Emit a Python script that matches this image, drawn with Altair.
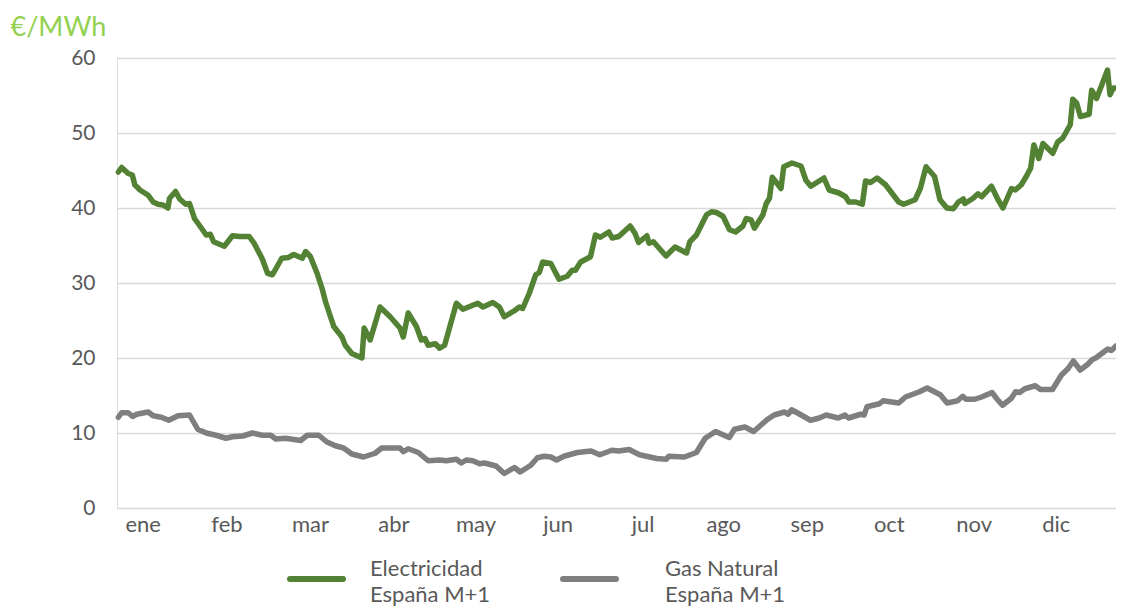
import altair as alt
import pandas as pd

# Day of year (0-365) and value in EUR/MWh
elec_days = [0.5, 1.7, 4.1, 5.6, 6.5, 8.4, 11.4, 13.2, 15.0, 16.8, 18.6, 19.2, 21.4, 22.9, 25.1, 26.5,
             28.3, 30.1, 32.6, 34.1, 35.3, 39.2, 42.2, 44.7, 48.3, 50.1, 53.1, 55.0, 56.8, 60.2, 62.6,
             64.6, 67.7, 68.9, 70.7, 73.1, 74.9, 76.2, 78.0, 79.2, 82.2, 83.4, 85.8, 89.5, 90.3, 92.5,
             96.1, 99.8, 103.4, 104.6, 106.4, 109.4, 111.2, 112.5, 113.7, 116.3, 117.9, 119.7, 124.0,
             126.4, 131.8, 133.7, 137.3, 139.7, 141.5, 145.2, 147.0, 148.2, 150.6, 153.0, 154.3, 155.5,
             158.5, 161.5, 164.5, 166.3, 167.5, 169.4, 173.0, 174.8, 176.6, 179.7, 180.9, 183.3, 187.5,
             189.3, 190.6, 193.6, 194.4, 196.0, 200.6, 203.9, 208.1, 209.3, 211.7, 215.4, 217.2, 219.0,
             221.4, 223.8, 226.0, 228.7, 229.9, 231.7, 232.9, 236.0, 237.2, 238.4, 239.4, 242.6, 243.6,
             246.6, 249.9, 251.7, 253.5, 258.3, 260.2, 263.8, 266.2, 267.4, 269.9, 272.3, 273.5, 275.3,
             277.7, 280.8, 285.6, 287.4, 291.6, 293.5, 295.6, 298.7, 300.7, 303.2, 305.6, 307.4, 309.2,
             309.8, 312.8, 314.6, 315.9, 319.5, 321.9, 323.7, 326.8, 328.2, 330.4, 332.2, 333.8, 335.0,
             336.8, 338.3, 341.9, 343.7, 345.5, 348.3, 349.2, 350.6, 352.0, 355.2, 356.1, 357.9, 361.9,
             362.8, 364.0, 365.0]
elec_vals = [44.8, 45.4, 44.6, 44.4, 43.1, 42.4, 41.7, 40.8, 40.5, 40.4, 40.0, 41.3, 42.2, 41.2, 40.5, 40.6,
             38.6, 37.7, 36.4, 36.5, 35.5, 34.9, 36.3, 36.2, 36.2, 35.3, 33.2, 31.3, 31.1, 33.3, 33.4,
             33.8, 33.3, 34.2, 33.5, 31.3, 29.3, 27.5, 25.5, 24.2, 22.8, 21.7, 20.6, 20.0, 24.0, 22.4,
             26.8, 25.5, 24.0, 22.8, 26.0, 24.2, 22.4, 22.6, 21.7, 21.9, 21.3, 21.7, 27.3,
             26.5, 27.3, 26.8, 27.4, 26.8, 25.5, 26.3, 26.8, 26.6, 28.6, 31.1, 31.4, 32.8,
             32.6, 30.5, 30.9, 31.7, 31.7, 32.8, 33.5, 36.4, 36.1, 36.8, 36.0, 36.2, 37.6,
             36.6, 35.4, 36.3, 35.3, 35.5, 33.6, 34.8, 34.0, 35.5, 36.4, 39.1, 39.5, 39.4,
             38.9, 37.1, 36.8, 37.6, 38.6, 38.4, 37.3, 39.1, 40.6, 41.3, 44.1, 42.6, 45.5,
             46.0, 45.6, 43.7, 42.9, 44.0, 42.4, 42.0, 41.5, 40.8, 40.8, 40.5, 43.6, 43.4,
             44.0, 43.1, 40.8, 40.5, 41.1, 42.6, 45.5, 44.2, 41.1, 40.0, 39.9, 40.8, 41.2,
             40.6, 41.3, 41.9, 41.5, 42.9, 41.1, 40.0, 42.6, 42.4, 43.1, 44.2, 45.3, 48.4,
             46.6, 48.6, 47.3, 48.8, 49.3, 51.1, 54.5, 54.0, 52.2, 52.5, 55.7, 54.6, 58.4,
             55.1, 56.0, 56.0]

gas_days = [0.5, 1.7, 4.1, 5.7, 7.2, 11.4, 13.2, 16.2, 18.9, 22.3, 26.5, 29.5, 32.6, 36.2, 39.8, 42.2,
            45.9, 49.5, 53.1, 56.2, 58.0, 61.6, 67.1, 69.5, 73.7, 76.7, 79.8, 82.8, 85.8, 90.1, 94.3,
            96.7, 103.4, 104.6, 106.4, 110.1, 113.7, 117.9, 120.3, 124.0, 125.8, 127.6, 130.0, 132.5,
            134.3, 138.5, 141.5, 145.2, 147.3, 151.2, 153.6, 156.1, 158.5, 160.6, 163.3, 168.2,
            173.2, 176.4, 180.8, 183.3, 187.1, 190.9, 197.2, 200.7, 201.6, 207.3, 211.7, 214.9, 218.7,
            223.7, 225.6, 229.4, 232.6, 237.6, 240.1, 243.9, 245.2, 246.5, 249.0, 253.4, 256.6, 259.1,
            263.5, 266.0, 267.3, 271.7, 273.0, 274.0, 278.6, 279.9, 285.6, 288.1, 293.2, 296.0, 300.8,
            303.3, 307.1, 309.0, 310.2, 313.4, 315.9, 319.7, 321.6, 323.5, 326.7, 328.3, 329.8, 331.7,
            335.5, 337.4, 341.8, 345.0, 347.5, 349.4, 351.9, 354.5, 356.4, 357.6, 362.0, 363.3, 365.0]
gas_vals = [12.1, 12.7, 12.7, 12.2, 12.5, 12.8, 12.3, 12.1, 11.7, 12.3, 12.4, 10.5, 10.0, 9.7, 9.3, 9.5,
            9.6, 10.0, 9.7, 9.7, 9.2, 9.3, 9.0, 9.7, 9.7, 8.8, 8.3, 8.0, 7.2, 6.8, 7.3,
            8.0, 8.0, 7.5, 7.9, 7.4, 6.3, 6.4, 6.3, 6.5, 6.0, 6.4, 6.3, 5.9,
            6.0, 5.6, 4.6, 5.4, 4.8, 5.7, 6.7, 6.9, 6.8, 6.4, 6.9, 7.4,
            7.6, 7.1, 7.7, 7.6, 7.8, 7.1, 6.6, 6.5, 6.9, 6.8, 7.4, 9.3, 10.2,
            9.4, 10.5, 10.8, 10.2, 11.8, 12.4, 12.8, 12.5, 13.1, 12.6, 11.7, 12.0, 12.4,
            12.0, 12.4, 12.0, 12.5, 12.4, 13.5, 13.9, 14.3, 14.0, 14.8, 15.5, 16.0, 15.1,
            14.0, 14.3, 14.9, 14.5, 14.5, 14.8, 15.4, 14.5, 13.7, 14.6, 15.5, 15.4, 15.9,
            16.3, 15.8, 15.8, 17.7, 18.6, 19.6, 18.4, 19.1, 19.8, 20.0, 21.2, 21.0, 21.6]

month_names = ["ene", "feb", "mar", "abr", "may", "jun", "jul", "ago", "sep", "oct", "nov", "dic"]
month_label_days = [9.4, 40.0, 70.5, 101.0, 131.0, 161.0, 192.0, 221.5, 252.0, 282.0, 313.0, 343.0]

series_names = ["Electricidad|España M+1", "Gas Natural|España M+1"]
series_colors = ["#548235", "#7F7F7F"]

df = pd.concat([
    pd.DataFrame({"dia": elec_days, "valor": elec_vals, "serie": series_names[0], "orden": range(len(elec_days))}),
    pd.DataFrame({"dia": gas_days, "valor": gas_vals, "serie": series_names[1], "orden": range(len(gas_days))}),
])
legend_df = pd.DataFrame({"serie": series_names, "color": series_colors})

label_map = " : ".join(
    f"datum.value < {d + 1} && datum.value > {d - 1} ? '{m}'" for d, m in zip(month_label_days, month_names)
) + " : ''"

FONT = "Lato"
TXT = "#595959"

lines = alt.Chart(df).mark_line(strokeWidth=5.5, strokeJoin="round", strokeCap="round").encode(
    x=alt.X("dia:Q",
            scale=alt.Scale(domain=[0, 365], nice=False, zero=False),
            axis=alt.Axis(values=month_label_days, labelExpr=label_map, title=None,
                          grid=False, ticks=False, domain=False, labelFontSize=22,
                          labelColor=TXT, labelFont=FONT, labelPadding=6, labelFlush=False)),
    y=alt.Y("valor:Q",
            scale=alt.Scale(domain=[0, 60], nice=False),
            axis=alt.Axis(values=[0, 10, 20, 30, 40, 50, 60], title="€/MWh", titleAngle=0,
                          titleX=-107, titleY=-31, titleAlign="left", titleBaseline="middle",
                          titleFontSize=27, titleColor="#92D050", titleFont=FONT, titleFontWeight="normal",
                          grid=True, gridColor="#D9D9D9", gridWidth=1.5, ticks=False, domain=False,
                          labelFontSize=21, labelColor=TXT, labelFont=FONT, labelPadding=22)),
    color=alt.Color("serie:N", scale=alt.Scale(domain=series_names, range=series_colors), legend=None),
    order="orden:Q",
)


def legend_entry(i, x_sym, x_text):
    base = alt.Chart(legend_df).transform_filter(alt.datum.serie == series_names[i])
    sym = base.mark_rule(strokeWidth=6, strokeCap="round", color=series_colors[i]).encode(
        x=alt.value(x_sym), x2=alt.value(x_sym + 53), y=alt.value(521))
    txt = base.mark_text(align="left", baseline="alphabetic", lineBreak="|", lineHeight=26,
                         fontSize=22, font=FONT, color=TXT).encode(
        text="serie:N", x=alt.value(x_text), y=alt.value(518))
    return sym + txt


chart = alt.layer(
    lines, legend_entry(0, 173, 253), legend_entry(1, 446, 548)
).properties(
    width=999, height=450,
    autosize=alt.AutoSizeParams(type="none"),
    padding={"left": 109, "top": 50, "right": 0, "bottom": 102},
).configure_view(stroke=None).configure(background="white")

chart.save("out.html", embed_options={"renderer": "svg", "actions": False})
